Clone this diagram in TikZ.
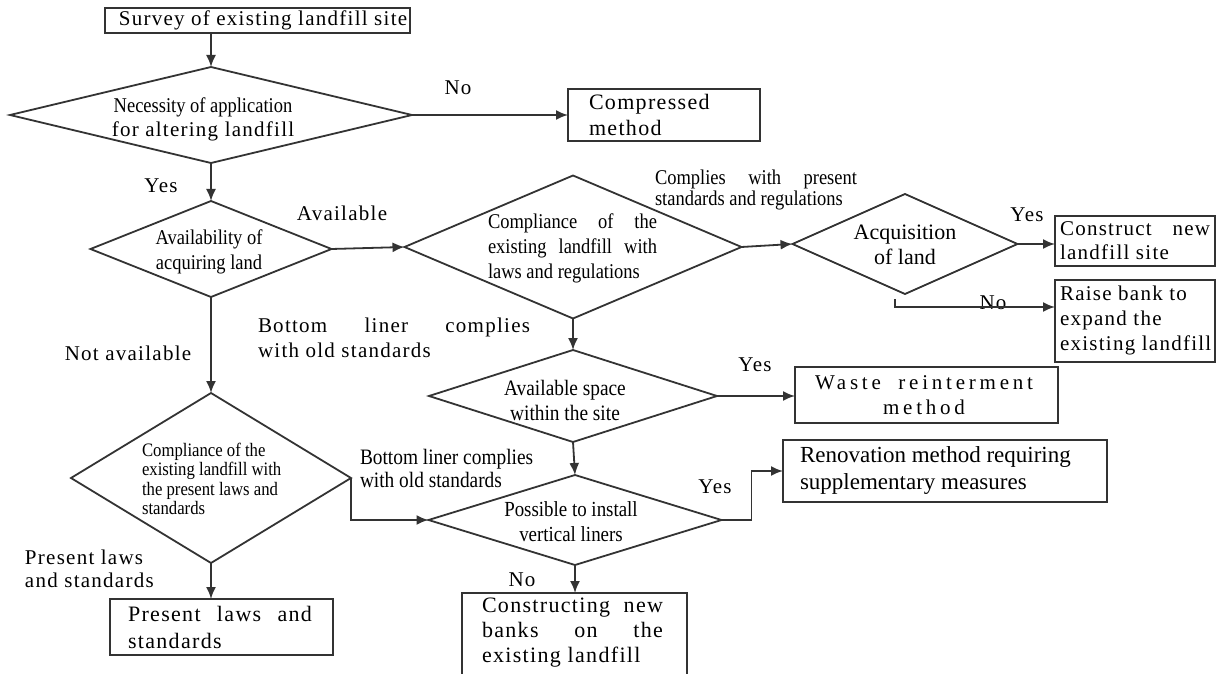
\documentclass[tikz,border=0pt]{standalone}
\usepackage{fontspec}
\setmainfont{Liberation Serif}
\newfontfamily\cond{Liberation Serif}[FakeStretch=0.88]
\newfontfamily\spc{Liberation Serif}[LetterSpace=6]
\newfontfamily\wspc{Liberation Serif}[LetterSpace=18]
\usetikzlibrary{shapes.geometric,arrows.meta,calc}
\newcommand\fsz[2]{\fontsize{#1}{#2}\selectfont}
\newcommand\jl[2]{\hbox to #1{#2}}
\begin{document}
\begin{tikzpicture}[x=0.5pt,y=-0.5pt,
  line/.style={draw=black!80, line width=0.9pt},
  arr/.style={line, -{Latex[length=6pt,width=5pt]}},
  box/.style={draw=black!80, line width=0.9pt, rectangle, inner sep=0pt, outer sep=0pt},
  dia/.style={draw=black!80, line width=0.9pt, diamond, inner sep=0pt, outer sep=0pt},
  txt/.style={inner sep=0pt, outer sep=0pt, text=black},
  ltxt/.style={txt, anchor=west, align=left},
]
\useasboundingbox (0,0) rectangle (1217,674);
\clip (0,0) rectangle (1217,674);

% boxes
\node[box, minimum width=152.5pt, minimum height=12.5pt] (survey) at (257.5,20.5) {};
\node[txt, font={\spc\fsz{10.5}{12}}] (survey-t) at (263,20.5) {Survey of existing landfill site};
\node[box, minimum width=96pt, minimum height=26pt] (comp) at (664,115) {};
\node[ltxt, font={\spc\fsz{11}{13}}] (comp-t) at (589,115) {Compressed\\method};
\node[box, minimum width=80pt, minimum height=25pt] (cons) at (1135,241) {};
\node[ltxt, font={\spc\fsz{10.5}{12}}] (cons-t) at (1060,241) {\jl{75pt}{Construct\hfill new}\\landfill site};
\node[box, minimum width=80pt, minimum height=41pt] (raise) at (1135,321) {};
\node[ltxt, font={\spc\fsz{10.5}{12.5}}] (raise-t) at (1060,320) {Raise bank to\\expand the\\existing landfill};
\node[box, minimum width=131.5pt, minimum height=28pt] (waste) at (926.5,395) {};
\node[txt, align=center, font={\wspc\fsz{10.5}{12.5}}] (waste-t) at (924,395)
  {\jl{109pt}{Waste\hfill reinterment}\\method};
\node[box, minimum width=162pt, minimum height=31pt] (reno) at (945,471) {};
\node[ltxt, font={\fsz{11.5}{13.5}}] (reno-t) at (800,471) {Renovation method requiring\\supplementary measures};
\node[box, minimum width=112.5pt, minimum height=47pt] (banks) at (574.5,640) {};
\node[ltxt, font={\spc\fsz{11}{12.5}}] (banks-t) at (482,633)
  {\jl{90.5pt}{Constructing\hfill new}\\\jl{90.5pt}{banks\hfill on\hfill the}\\existing landfill};
\node[box, minimum width=111.5pt, minimum height=28pt] (plaws) at (221.5,627) {};
\node[ltxt, font={\spc\fsz{11}{13.5}}] (plaws-t) at (128,627)
  {\jl{92pt}{Present\hfill laws\hfill and}\\standards};

% diamonds
\node[dia, minimum width=201pt, minimum height=48pt] (d1) at (211,115) {};
\node[txt, align=center, font={\fsz{10.5}{12}}] (d1-t) at (203,119)
  {{\cond Necessity of application}\\{\spc for altering landfill}};
\node[dia, minimum width=120.5pt, minimum height=48pt] (d2) at (211,249) {};
\node[txt, align=center, font={\cond\fsz{10.5}{12.5}}] (d2-t) at (209,252)
  {Availability of\\acquiring land};
\node[dia, minimum width=168.5pt, minimum height=71.5pt] (d3) at (573,247) {};
\node[ltxt, font={\cond\fsz{10.5}{12.5}}] (d3-t) at (488,248)
  {\jl{84.5pt}{Compliance\hfill of\hfill the}\\\jl{84.5pt}{existing\hfill landfill\hfill with}\\laws and regulations};
\node[dia, minimum width=112.5pt, minimum height=50pt] (d4) at (905,244) {};
\node[txt, align=center, font={\fsz{11}{12.5}}] (d4-t) at (905,245)
  {Acquisition\\of land};
\node[dia, minimum width=144pt, minimum height=46pt] (d5) at (573,396) {};
\node[txt, align=center, font={\cond\fsz{11}{12.5}}] (d5-t) at (565,400)
  {Available space\\within the site};
\node[dia, minimum width=146.5pt, minimum height=45pt] (d6) at (575,520) {};
\node[txt, align=center, font={\cond\fsz{10.75}{12.5}}] (d6-t) at (571,522)
  {Possible to install\\vertical liners};
\node[dia, minimum width=140pt, minimum height=85pt] (d7) at (211,478) {};
\node[ltxt, font={\cond\fsz{9.5}{9.8}}] (d7-t) at (142,479)
  {Compliance of the\\existing landfill with\\the present laws and\\standards};

% labels
\node[txt, font={\spc\fsz{10.5}{12}}] (l-no1) at (458,88) {No};
\node[txt, font={\spc\fsz{10.5}{12}}] (l-yes1) at (161,186) {Yes};
\node[txt, font={\spc\fsz{10.5}{12}}] (l-avail) at (342,213) {Available};
\node[ltxt, font={\cond\fsz{10.5}{9.5}}] (l-comp) at (655,190)
  {\jl{101pt}{Complies\hfill with\hfill present}\\standards and regulations};
\node[txt, font={\spc\fsz{10.5}{12}}] (l-yes2) at (1027,215) {Yes};
\node[txt, font={\spc\fsz{10.5}{12}}] (l-no2) at (993,303) {No};
\node[ltxt, font={\spc\fsz{10.5}{12.5}}] (l-bl1) at (258,337.5)
  {\jl{136pt}{Bottom\hfill liner\hfill complies}\\with old standards};
\node[txt, font={\spc\fsz{10.5}{12}}] (l-notav) at (128,353) {Not available};
\node[txt, font={\spc\fsz{10.5}{12}}] (l-yes3) at (755,365) {Yes};
\node[ltxt, font={\cond\fsz{11}{11.5}}] (l-bl2) at (360,468.5)
  {Bottom liner complies\\with old standards};
\node[txt, font={\spc\fsz{10.5}{12}}] (l-yes4) at (715,487) {Yes};
\node[txt, font={\spc\fsz{10.5}{12}}] (l-no3) at (522,580) {No};
\node[ltxt, font={\spc\fsz{10.5}{11.5}}] (l-pl) at (25,568.5)
  {Present laws\\and standards};

% connectors
\coordinate (nob) at (895,299);
\draw[arr] (d1.north |- survey.south) -- (d1.north);
\draw[arr] (d1.east) -- (d1.east -| comp.west);
\draw[arr] (d1.south) -- (d2.north);
\draw[arr] (d2.east) -- (d3.west);
\draw[arr] (d3.east) -- (d4.west);
\draw[arr] (d4.east) -- (d4.east -| cons.west);
\draw[arr] (nob) |- ($(raise.north west)+(0,27)$);
\draw[arr] (d3.south) -- (d5.north);
\draw[arr] (d5.east) -- (d5.east -| waste.west);
\draw[arr] (d5.south) -- (d6.north);
\draw[arr] (d6.east) -- ++(30,0) |- (reno.west);
\draw[arr] (d6.south) -- (d6.south |- banks.north);
\draw[arr] (d2.south) -- (d7.north);
\draw[arr] (d7.east) |- (d6.west);
\draw[arr] (d7.south) -- (d7.south |- plaws.north);
\end{tikzpicture}
\end{document}
